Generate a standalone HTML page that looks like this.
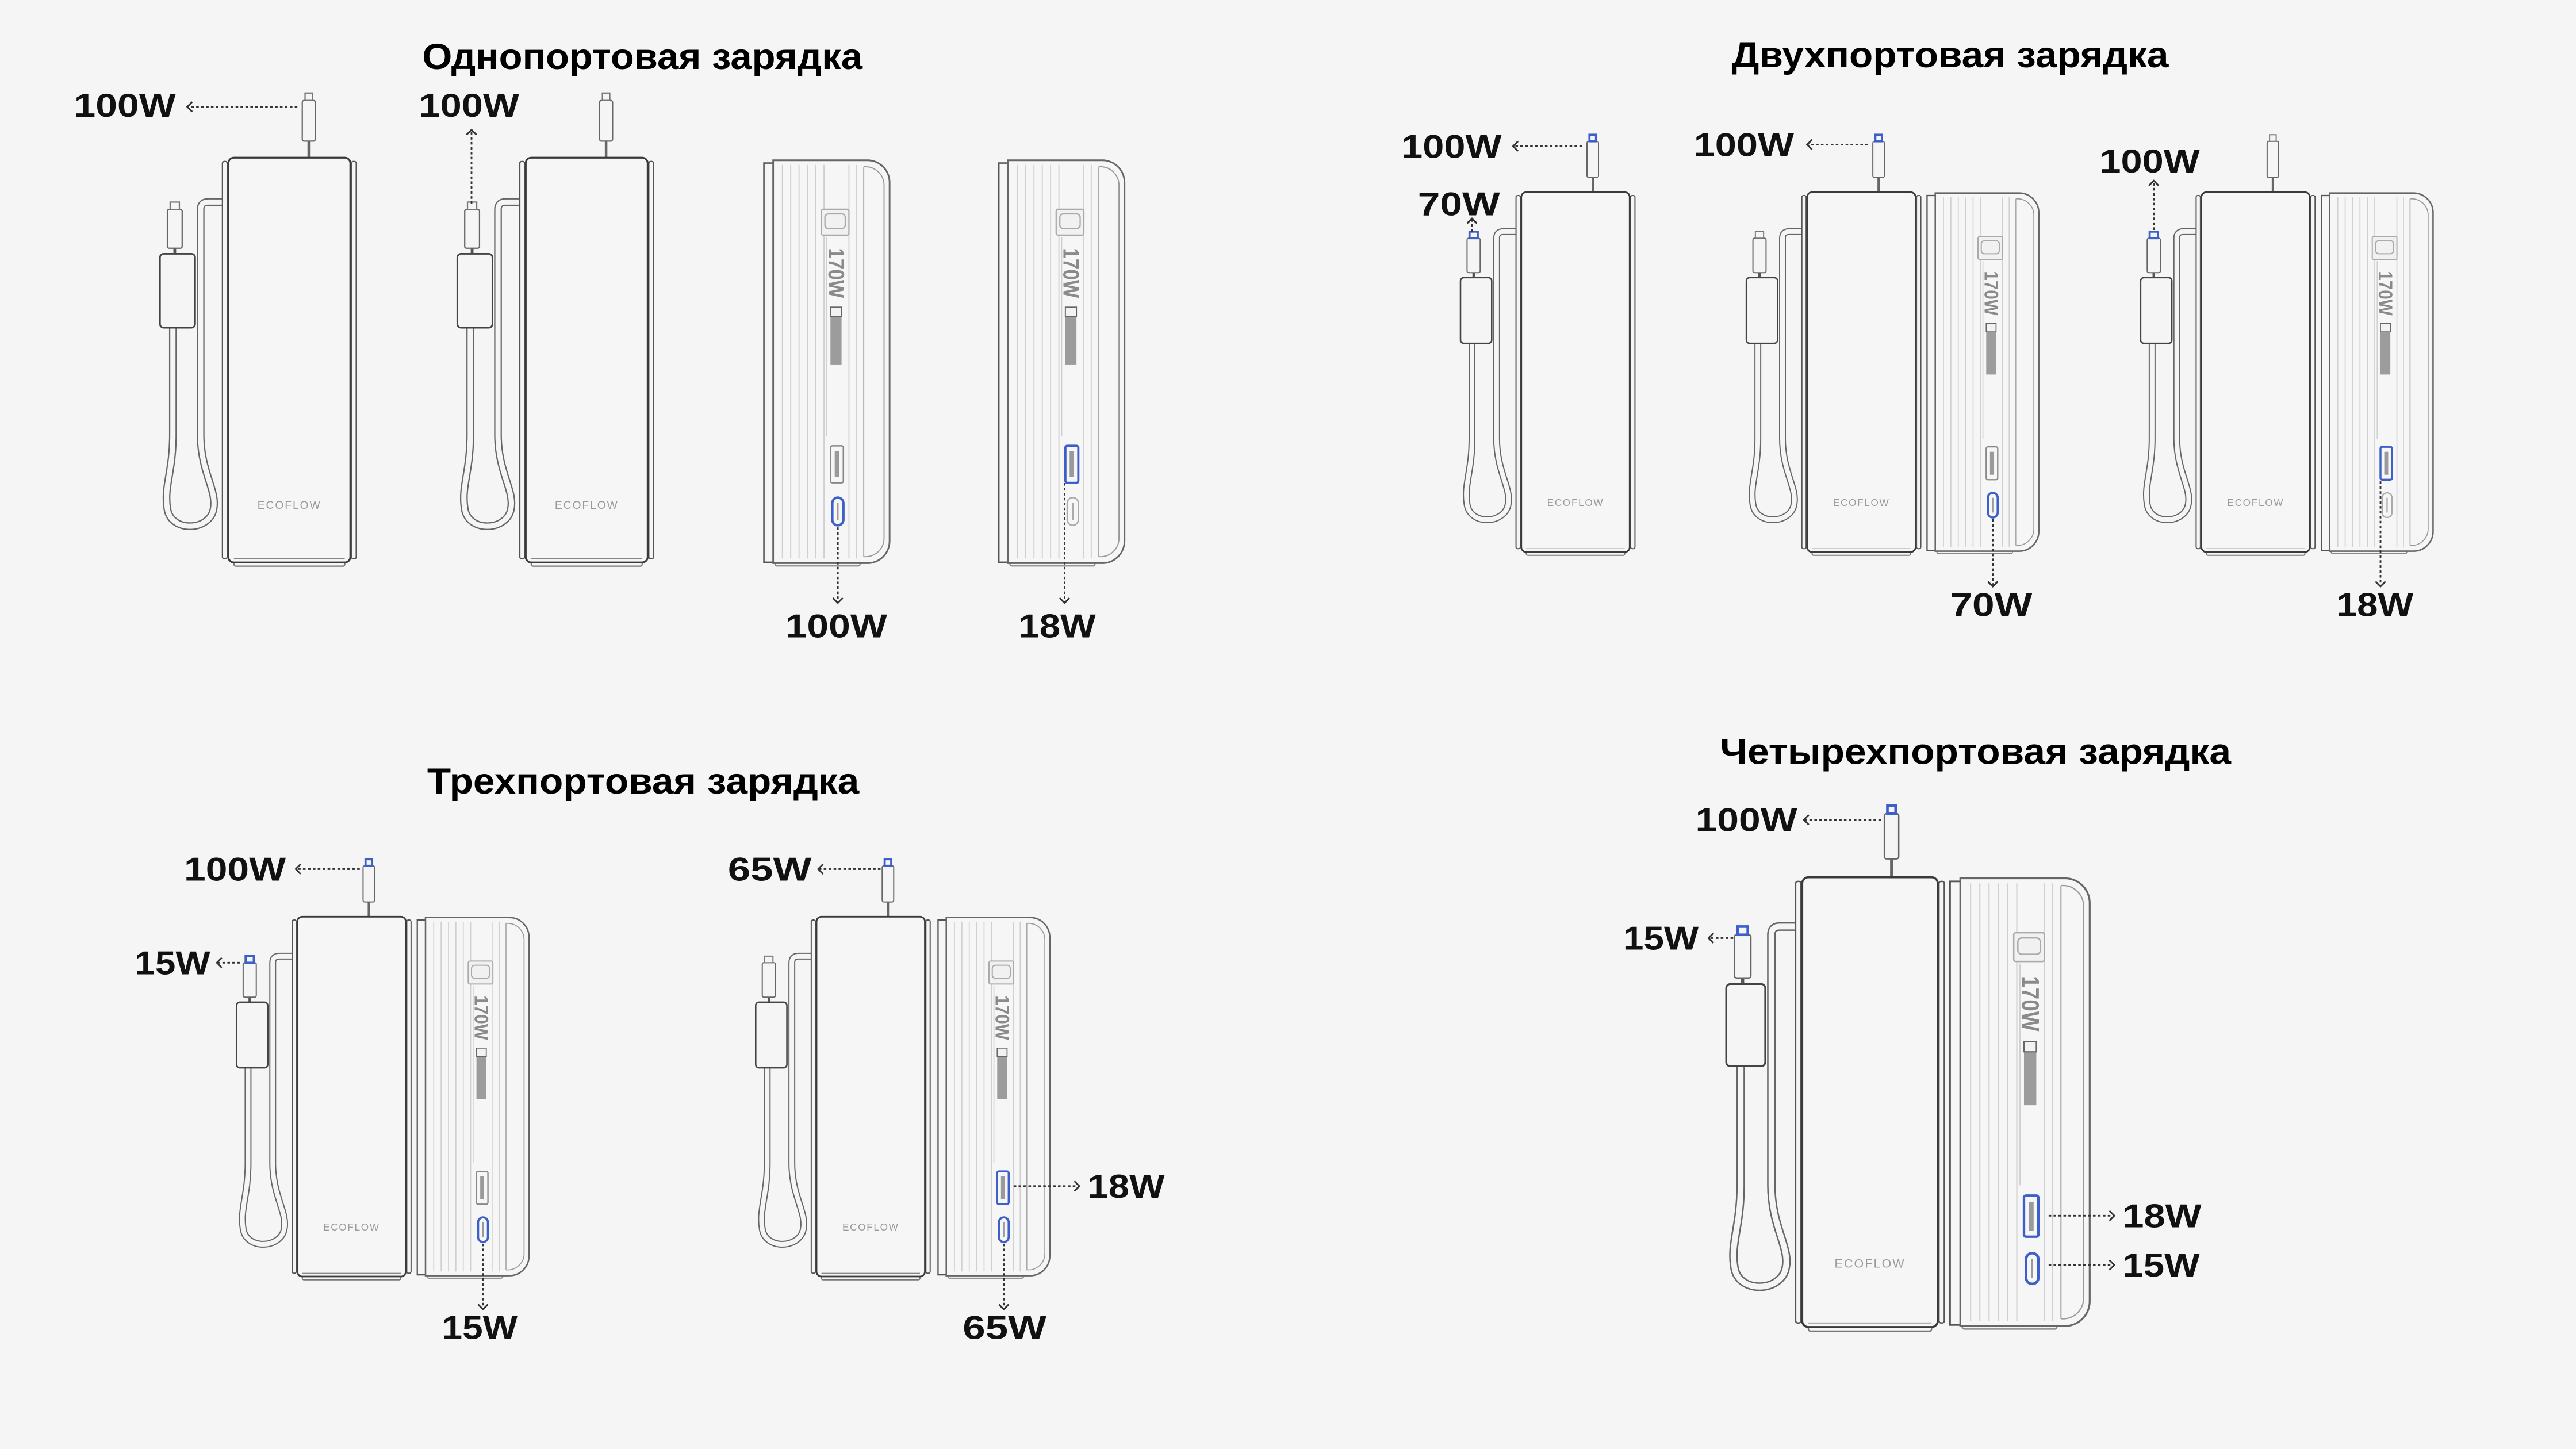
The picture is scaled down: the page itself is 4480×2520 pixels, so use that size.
<!DOCTYPE html>
<html><head><meta charset="utf-8"><style>
html,body{margin:0;padding:0;background:#f5f5f5;}
svg{display:block}
.lbl{font-family:"Liberation Sans",sans-serif;font-weight:bold;font-size:20px;fill:#111}
.ttl{font-family:"Liberation Sans","Noto Sans CJK SC",sans-serif;font-weight:bold;font-size:22px;fill:#000}
.eco{font-family:"Liberation Sans",sans-serif;font-size:6px;fill:#9a9a9a;letter-spacing:0.6px}
.w170{font-family:"Liberation Sans",sans-serif;font-weight:bold;font-size:12px;fill:#8a8a8a}
.ar{stroke:#333;stroke-width:1;stroke-dasharray:1.6 1.4;fill:none}
.ah{stroke:#333;stroke-width:1;fill:none}
</style></head><body>
<svg width="4480" height="2520" viewBox="0 0 1568 882" xmlns="http://www.w3.org/2000/svg">
<rect width="1568" height="882" fill="#f5f5f5"/>
<defs>
<g id="front">
  <path d="M0,24 H-11 Q-15,24 -15,28 V150 C-15,170 -6,180 -8,190 C-10,202 -31,203 -33,190 C-35,178 -30,170 -30,150 V92" fill="none" stroke="#666" stroke-width="4.2"/>
  <path d="M0,24 H-11 Q-15,24 -15,28 V150 C-15,170 -6,180 -8,190 C-10,202 -31,203 -33,190 C-35,178 -30,170 -30,150 V92" fill="none" stroke="#f5f5f5" stroke-width="2.8"/>
  <line x1="-29" y1="49" x2="-29" y2="52" stroke="#555" stroke-width="1.5"/>
  <rect x="-37" y="52" width="19" height="40" rx="2" fill="#f5f5f5" stroke="#444" stroke-width="0.9"/>
  <rect x="-33" y="28" width="8" height="21" rx="1" fill="#f5f5f5" stroke="#666" stroke-width="0.7"/>
  <line x1="43.5" y1="-9" x2="43.5" y2="0" stroke="#666" stroke-width="1.4"/>
  <rect x="40" y="-31" width="7" height="22" rx="1" fill="#f5f5f5" stroke="#666" stroke-width="0.7"/>
  <rect x="-3.2" y="2" width="2.6" height="215" rx="1" fill="#f5f5f5" stroke="#555" stroke-width="0.7"/>
  <rect x="66.6" y="2" width="2.6" height="215" rx="1" fill="#f5f5f5" stroke="#555" stroke-width="0.7"/>
  <rect x="3" y="215" width="60" height="6" rx="1" fill="#f6f6f6" stroke="#777" stroke-width="0.7"/>
  <rect x="0" y="0" width="66" height="219" rx="3" fill="#f6f6f6" stroke="#3a3a3a" stroke-width="1"/>
  <line x1="3" y1="217" x2="63" y2="217" stroke="#888" stroke-width="0.5"/>
</g>
<g id="sidetipG"><rect x="-31.5" y="24" width="5" height="4" fill="#f5f5f5" stroke="#777" stroke-width="0.7"/></g>
<g id="sidetipB"><rect x="-31.5" y="24" width="5" height="4" fill="#f5f5f5" stroke="#3d5fc9" stroke-width="1.3"/></g>
<g id="toptipG"><rect x="41.5" y="-35" width="4" height="4" fill="#f5f5f5" stroke="#777" stroke-width="0.7"/></g>
<g id="toptipB"><rect x="41.5" y="-35" width="4" height="4" fill="#f5f5f5" stroke="#3d5fc9" stroke-width="1.3"/></g>
<g id="side">
  <rect x="6" y="215" width="46" height="5" rx="1" fill="#f6f6f6" stroke="#888" stroke-width="0.7"/>
  <rect x="0" y="2" width="6" height="216" fill="#f6f6f6" stroke="#555" stroke-width="0.8"/>
  <path d="M5,0.5 H56 A12,12 0 0 1 68,12.5 V206.5 A12,12 0 0 1 56,218.5 H5 Z" fill="#f6f6f6" stroke="#666" stroke-width="0.9"/>
  <path d="M54,4 H55 A10,10 0 0 1 65,14 V205 A10,10 0 0 1 55,215 H54" fill="none" stroke="#999" stroke-width="0.6"/>
  <line x1="54" y1="4" x2="54" y2="215" stroke="#aaa" stroke-width="0.6"/>
  <g stroke="#d0d0d0" stroke-width="0.6">
    <line x1="10" y1="3" x2="10" y2="216"/><line x1="14.5" y1="3" x2="14.5" y2="216"/>
    <line x1="19" y1="3" x2="19" y2="216"/><line x1="23.5" y1="3" x2="23.5" y2="216"/>
    <line x1="28" y1="3" x2="28" y2="216"/><line x1="32.5" y1="3" x2="32.5" y2="216"/>
    <line x1="46" y1="3" x2="46" y2="216"/><line x1="50" y1="3" x2="50" y2="216"/>
  </g>
  <rect x="33" y="42" width="12" height="110" fill="#f6f6f6"/>
  <line x1="34" y1="42" x2="34" y2="150" stroke="#d0d0d0" stroke-width="0.6"/>
  <rect x="31" y="27" width="15" height="14" rx="1" fill="#f1f1f1" stroke="#aaa" stroke-width="0.7"/>
  <rect x="33" y="29.5" width="11" height="8" rx="2" fill="none" stroke="#aaa" stroke-width="0.7"/>
  <rect x="36" y="80" width="6" height="31" fill="#9c9c9c"/>
  <rect x="36" y="80" width="6" height="5" fill="#f2f2f2" stroke="#666" stroke-width="0.6"/>
</g>
<g id="uaG"><rect x="36" y="155" width="7" height="20" rx="1" fill="#f6f6f6" stroke="#888" stroke-width="0.8"/><rect x="38.3" y="158" width="2.4" height="14" fill="#9a9a9a"/></g>
<g id="uaB"><rect x="36" y="155" width="7" height="20" rx="1" fill="#f6f6f6" stroke="#3d5fc9" stroke-width="1.2"/><rect x="38.3" y="158" width="2.4" height="14" fill="#9a9a9a"/></g>
<g id="ucG"><rect x="37" y="183" width="6" height="15" rx="3" fill="#f6f6f6" stroke="#aaa" stroke-width="0.8"/><line x1="40" y1="186" x2="40" y2="195" stroke="#aaa" stroke-width="0.8"/></g>
<g id="ucB"><rect x="37" y="183" width="6" height="15" rx="3" fill="#f6f6f6" stroke="#3d5fc9" stroke-width="1.3"/><line x1="40" y1="186" x2="40" y2="195" stroke="#999" stroke-width="0.8"/></g>
</defs>

<text class="ttl" x="257" y="42" textLength="268" lengthAdjust="spacingAndGlyphs">Однопортовая зарядка</text>
<text class="ttl" x="1054" y="41" textLength="266" lengthAdjust="spacingAndGlyphs">Двухпортовая зарядка</text>
<text class="ttl" x="260" y="483" textLength="263" lengthAdjust="spacingAndGlyphs">Трехпортовая зарядка</text>
<text class="ttl" x="1047" y="465" textLength="311" lengthAdjust="spacingAndGlyphs">Четырехпортовая зарядка</text>

<g transform="translate(139,96) scale(1.125)"><use href="#front"/><use href="#toptipG"/><use href="#sidetipG"/><text class="eco" x="33" y="190" text-anchor="middle">ECOFLOW</text></g>
<g transform="translate(320,96) scale(1.125)"><use href="#front"/><use href="#toptipG"/><use href="#sidetipG"/><text class="eco" x="33" y="190" text-anchor="middle">ECOFLOW</text></g>
<g transform="translate(465,97) scale(1.125)"><use href="#side"/><use href="#uaG"/><use href="#ucB"/><text class="w170" transform="translate(35,48) rotate(90)" textLength="27" lengthAdjust="spacingAndGlyphs">170W</text></g>
<g transform="translate(608,97) scale(1.125)"><use href="#side"/><use href="#uaB"/><use href="#ucG"/><text class="w170" transform="translate(35,48) rotate(90)" textLength="27" lengthAdjust="spacingAndGlyphs">170W</text></g>

<g transform="translate(926,117)"><use href="#front"/><use href="#toptipB"/><use href="#sidetipB"/><text class="eco" x="33" y="191" text-anchor="middle">ECOFLOW</text></g>
<g transform="translate(1100,117)"><use href="#front"/><use href="#toptipB"/><use href="#sidetipG"/><text class="eco" x="33" y="191" text-anchor="middle">ECOFLOW</text></g>
<g transform="translate(1173,117)"><use href="#side"/><use href="#uaG"/><use href="#ucB"/><text class="w170" transform="translate(35,48) rotate(90)" textLength="27" lengthAdjust="spacingAndGlyphs">170W</text></g>
<g transform="translate(1340,117)"><use href="#front"/><use href="#toptipG"/><use href="#sidetipB"/><text class="eco" x="33" y="191" text-anchor="middle">ECOFLOW</text></g>
<g transform="translate(1413,117)"><use href="#side"/><use href="#uaB"/><use href="#ucG"/><text class="w170" transform="translate(35,48) rotate(90)" textLength="27" lengthAdjust="spacingAndGlyphs">170W</text></g>

<g transform="translate(181,558)"><use href="#front"/><use href="#toptipB"/><use href="#sidetipB"/><text class="eco" x="33" y="191" text-anchor="middle">ECOFLOW</text></g>
<g transform="translate(254,558)"><use href="#side"/><use href="#uaG"/><use href="#ucB"/><text class="w170" transform="translate(35,48) rotate(90)" textLength="27" lengthAdjust="spacingAndGlyphs">170W</text></g>
<g transform="translate(497,558)"><use href="#front"/><use href="#toptipB"/><use href="#sidetipG"/><text class="eco" x="33" y="191" text-anchor="middle">ECOFLOW</text></g>
<g transform="translate(571,558)"><use href="#side"/><use href="#uaB"/><use href="#ucB"/><text class="w170" transform="translate(35,48) rotate(90)" textLength="27" lengthAdjust="spacingAndGlyphs">170W</text></g>

<g transform="translate(1097,534) scale(1.25)"><use href="#front"/><use href="#toptipB"/><use href="#sidetipB"/><text class="eco" x="33" y="190" text-anchor="middle">ECOFLOW</text></g>
<g transform="translate(1187,534) scale(1.25)"><use href="#side"/><use href="#uaB"/><use href="#ucB"/><text class="w170" transform="translate(35,48) rotate(90)" textLength="27" lengthAdjust="spacingAndGlyphs">170W</text></g>

<g class="lbl">
<text class="lbl" x="45" y="71" textLength="62" lengthAdjust="spacingAndGlyphs">100W</text>
<text class="lbl" x="255" y="71" textLength="61" lengthAdjust="spacingAndGlyphs">100W</text>
<text class="lbl" x="478" y="388" textLength="62" lengthAdjust="spacingAndGlyphs">100W</text>
<text class="lbl" x="620" y="388" textLength="47" lengthAdjust="spacingAndGlyphs">18W</text>
<text class="lbl" x="853" y="96" textLength="61" lengthAdjust="spacingAndGlyphs">100W</text>
<text class="lbl" x="863" y="131" textLength="50" lengthAdjust="spacingAndGlyphs">70W</text>
<text class="lbl" x="1031" y="95" textLength="61" lengthAdjust="spacingAndGlyphs">100W</text>
<text class="lbl" x="1187" y="375" textLength="50" lengthAdjust="spacingAndGlyphs">70W</text>
<text class="lbl" x="1278" y="105" textLength="61" lengthAdjust="spacingAndGlyphs">100W</text>
<text class="lbl" x="1422" y="375" textLength="47" lengthAdjust="spacingAndGlyphs">18W</text>
<text class="lbl" x="112" y="536" textLength="62" lengthAdjust="spacingAndGlyphs">100W</text>
<text class="lbl" x="82" y="593" textLength="46" lengthAdjust="spacingAndGlyphs">15W</text>
<text class="lbl" x="269" y="815" textLength="46" lengthAdjust="spacingAndGlyphs">15W</text>
<text class="lbl" x="443" y="536" textLength="51" lengthAdjust="spacingAndGlyphs">65W</text>
<text class="lbl" x="662" y="729" textLength="47" lengthAdjust="spacingAndGlyphs">18W</text>
<text class="lbl" x="586" y="815" textLength="51" lengthAdjust="spacingAndGlyphs">65W</text>
<text class="lbl" x="1032" y="506" textLength="62" lengthAdjust="spacingAndGlyphs">100W</text>
<text class="lbl" x="988" y="578" textLength="46" lengthAdjust="spacingAndGlyphs">15W</text>
<text class="lbl" x="1292" y="747" textLength="48" lengthAdjust="spacingAndGlyphs">18W</text>
<text class="lbl" x="1292" y="777" textLength="47" lengthAdjust="spacingAndGlyphs">15W</text>
</g>

<g>
<line class="ar" x1="181" y1="65" x2="114" y2="65"/><polyline class="ah" points="117,62 114,65 117,68"/>
<line class="ar" x1="963" y1="89" x2="921" y2="89"/><polyline class="ah" points="924,86 921,89 924,92"/>
<line class="ar" x1="1137" y1="88" x2="1100" y2="88"/><polyline class="ah" points="1103,85 1100,88 1103,91"/>
<line class="ar" x1="219" y1="529" x2="180" y2="529"/><polyline class="ah" points="183,526 180,529 183,532"/>
<line class="ar" x1="146" y1="586" x2="132" y2="586"/><polyline class="ah" points="135,583 132,586 135,589"/>
<line class="ar" x1="536" y1="529" x2="498" y2="529"/><polyline class="ah" points="501,526 498,529 501,532"/>
<line class="ar" x1="1145" y1="499" x2="1098" y2="499"/><polyline class="ah" points="1101,496 1098,499 1101,502"/>
<line class="ar" x1="1055" y1="571" x2="1040" y2="571"/><polyline class="ah" points="1043,568 1040,571 1043,574"/>
<line class="ar" x1="287" y1="124" x2="287" y2="79"/><polyline class="ah" points="284,82 287,79 290,82"/>
<line class="ar" x1="896" y1="141" x2="896" y2="133"/><polyline class="ah" points="893,136 896,133 899,136"/>
<line class="ar" x1="1311" y1="140" x2="1311" y2="110"/><polyline class="ah" points="1308,113 1311,110 1314,113"/>
<line class="ar" x1="510" y1="321" x2="510" y2="367"/><polyline class="ah" points="507,364 510,367 513,364"/>
<line class="ar" x1="648" y1="294" x2="648" y2="367"/><polyline class="ah" points="645,364 648,367 651,364"/>
<line class="ar" x1="1213" y1="316" x2="1213" y2="357"/><polyline class="ah" points="1210,354 1213,357 1216,354"/>
<line class="ar" x1="1449" y1="293" x2="1449" y2="357"/><polyline class="ah" points="1446,354 1449,357 1452,354"/>
<line class="ar" x1="294" y1="757" x2="294" y2="797"/><polyline class="ah" points="291,794 294,797 297,794"/>
<line class="ar" x1="611" y1="757" x2="611" y2="797"/><polyline class="ah" points="608,794 611,797 614,794"/>
<line class="ar" x1="617" y1="722" x2="657" y2="722"/><polyline class="ah" points="654,719 657,722 654,725"/>
<line class="ar" x1="1247" y1="740" x2="1287" y2="740"/><polyline class="ah" points="1284,737 1287,740 1284,743"/>
<line class="ar" x1="1247" y1="770" x2="1287" y2="770"/><polyline class="ah" points="1284,767 1287,770 1284,773"/>
</g>
</svg>
</body></html>
